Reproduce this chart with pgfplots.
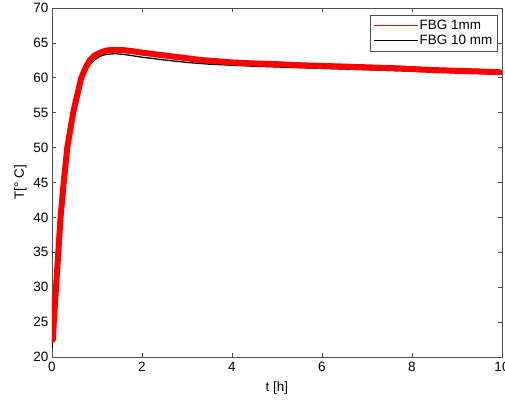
\documentclass[border=0pt]{standalone}
\usepackage{pgfplots}
\pgfplotsset{compat=1.18}
\usepackage{fontspec}
\setmainfont{Liberation Sans}
\begin{document}
\begin{tikzpicture}
\begin{axis}[
  width=450bp, height=349bp, scale only axis,
  xmin=0, xmax=10, ymin=20, ymax=70,
  xtick={0,2,...,10}, ytick={20,25,...,70},
  tick align=inside, major tick length=4bp,
  axis line style={black!70, line width=0.6pt},
  every tick/.style={black!70, line width=0.6pt},
  tick label style={font=\fontsize{13.5bp}{16bp}\selectfont},
  xticklabel style={yshift=-2bp},
  label style={font=\fontsize{13.5bp}{16bp}\selectfont},
  xlabel style={yshift=-3bp},
  /pgf/number format/assume math mode=true,
  xlabel={t [h]}, ylabel={T[° C]},
  legend style={at={(rel axis cs:0.99,0.98)}, anchor=north east, draw=black!70,
    font=\fontsize{13.5bp}{16bp}\selectfont, cells={anchor=west}, row sep=0bp, inner sep=3bp},
  reverse legend,
]
% FBG 10 mm
\addplot[draw=black, line width=1.3pt, line join=round,
  legend image code/.code={\color{black}\fill[draw=none, line width=0pt] (0bp,-0.4bp) rectangle (44bp,0.4bp);}] coordinates {
(0,21.3)(0.04,24.5)(0.09,29.5)(0.14,34.5)(0.19,39.5)(0.26,44.5)(0.34,49.5)(0.47,54.5)
(0.65,59.5)(0.75,61.0)(0.85,62.0)(0.95,62.6)(1.07,63.1)(1.2,63.35)(1.4,63.45)(1.6,63.35)
(1.8,63.15)(2.0,62.95)(2.5,62.55)(3,62.2)(3.5,61.95)(4,61.8)(4.5,61.65)(5,61.55)(5.5,61.45)
(6,61.35)(6.5,61.25)(7,61.15)(7.5,61.05)(8,60.95)(8.5,60.85)(9,60.75)(9.5,60.65)(10,60.55)
};
\addlegendentry{FBG 10 mm}
% FBG 1mm (noise band)
\addplot[draw=red, line width=6bp, line join=round, line cap=round,
  legend image code/.code={\color{red}\fill[draw=none, line width=0pt] (0bp,-0.5bp) rectangle (44bp,0.5bp);}] coordinates {
(0.02,22.5)(0.04,25)(0.09,30)(0.14,35)(0.19,40)(0.26,45)(0.34,50)(0.47,55)
(0.65,60)(0.75,61.5)(0.84,62.5)(0.95,63.2)(1.07,63.6)(1.2,63.9)(1.36,64.0)(1.6,63.95)
(1.8,63.8)(2.0,63.6)(2.5,63.2)(3,62.8)(3.3,62.55)(3.5,62.45)(4,62.2)(4.5,62.05)(5,61.95)
(5.5,61.8)(6,61.7)(6.5,61.6)(7,61.5)(7.7,61.35)(8,61.25)(8.5,61.1)(9,61.0)(9.5,60.9)(9.95,60.8)
};
\addlegendentry{FBG 1mm}
\end{axis}
\pgfresetboundingbox
\path[use as bounding box] ([shift={(-52bp,-46bp)}]current axis.south west) rectangle ([shift={(3bp,8bp)}]current axis.north east);
\end{tikzpicture}
\end{document}
